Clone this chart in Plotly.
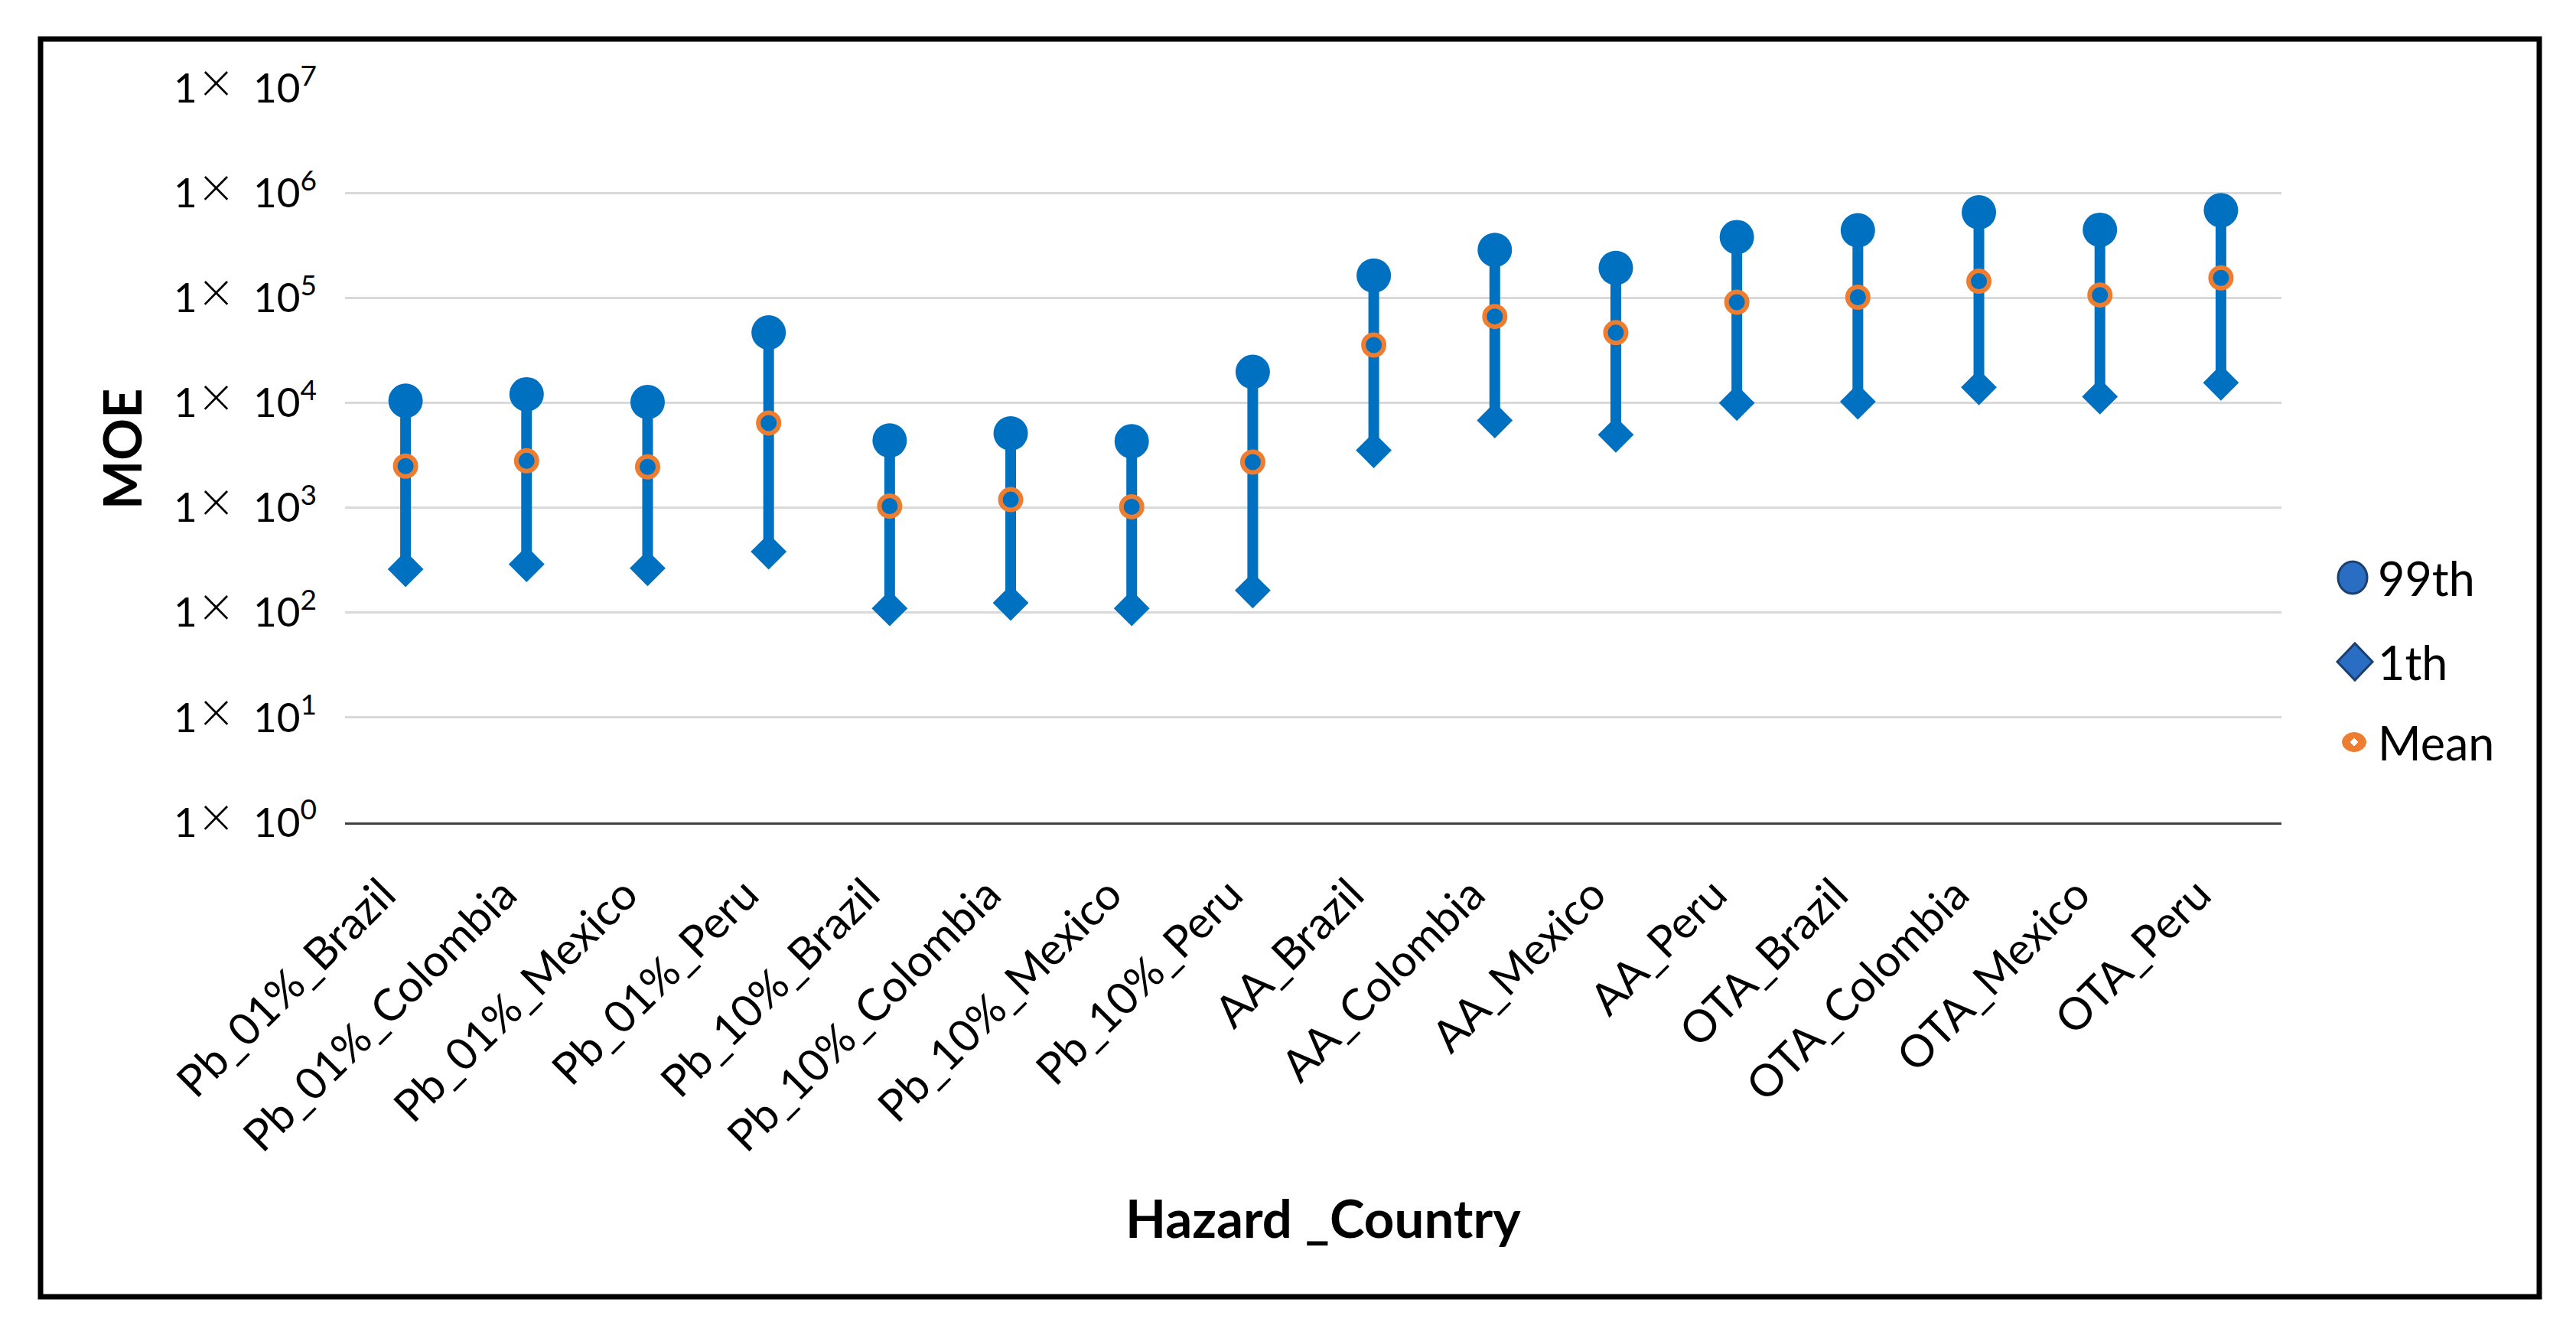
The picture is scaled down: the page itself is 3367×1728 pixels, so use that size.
import plotly.graph_objects as go

categories = ["Pb_01%_Brazil", "Pb_01%_Colombia", "Pb_01%_Mexico", "Pb_01%_Peru",
              "Pb_10%_Brazil", "Pb_10%_Colombia", "Pb_10%_Mexico", "Pb_10%_Peru",
              "AA_Brazil", "AA_Colombia", "AA_Mexico", "AA_Peru",
              "OTA_Brazil", "OTA_Colombia", "OTA_Mexico", "OTA_Peru"]
p99 = [10500, 12100, 10200, 47000, 4390, 5130, 4310, 19800,
       164000, 288000, 194000, 382000, 443000, 658000, 448000, 688000]
p1 = [260, 290, 265, 382, 110, 124, 110, 163,
      3540, 6820, 4970, 10000, 10300, 14100, 11500, 15600]
mean = [2500, 2810, 2460, 6440, 1040, 1197, 1023, 2730,
        35700, 66800, 46800, 91500, 102000, 145000, 107000, 156000]
tick_exps = [0, 1, 2, 3, 4, 5, 6, 7]
legend_names = ["99th", "1th", "Mean"]

BLUE = "#0070C0"
ORANGE = "#ED7D31"
LEG_BLUE = "#2A6EC4"
LEG_EDGE = "#1B3F6E"
FONT = "Lato"

W, H = 3367, 1728
L, R, T, B = 443, 2974, 107, 1067

def px(x):
    return (x - L) / (R - L)

def py(y):
    return (B - y) / (B - T)

# vertical segments from 1th to 99th
seg_x, seg_y = [], []
for c, lo, hi in zip(categories, p1, p99):
    seg_x += [c, c, None]
    seg_y += [lo, hi, None]

fig = go.Figure()
fig.add_trace(go.Scatter(x=seg_x, y=seg_y, mode="lines",
                         line=dict(color=BLUE, width=14),
                         showlegend=False, hoverinfo="skip"))
fig.add_trace(go.Scatter(x=categories, y=p1, mode="markers", name="1th",
                         marker=dict(symbol="diamond", size=36, color=BLUE),
                         showlegend=False))
fig.add_trace(go.Scatter(x=categories, y=p99, mode="markers", name="99th",
                         marker=dict(symbol="circle", size=45, color=BLUE),
                         showlegend=False))
fig.add_trace(go.Scatter(x=categories, y=mean, mode="markers", name="Mean",
                         marker=dict(symbol="circle", size=27, color=BLUE,
                                     line=dict(color=ORANGE, width=6)),
                         showlegend=False))

ytext = ["1\u200a<span style='font-size:74px;font-weight:300'>\u00d7</span>\u00a0\u00a010<sup>%d</sup>" % e
         for e in tick_exps]

fig.update_layout(
    width=W, height=H,
    margin=dict(l=L, r=W - R, t=T, b=H - B, autoexpand=False),
    paper_bgcolor="white", plot_bgcolor="white",
    font=dict(family=FONT, color="black"),
    showlegend=False,
    xaxis=dict(type="category", categoryorder="array", categoryarray=categories,
               range=[-0.5, len(categories) - 0.5],
               tickangle=-45, tickfont=dict(size=58, family=FONT),
               showgrid=False, showline=True, linecolor="#404040", linewidth=3,
               ticks="", ticklen=0, ticklabelstandoff=34, ticklabelshift=-30,
               zeroline=False),
    yaxis=dict(type="log", range=[0, 7.004],
               tickvals=[10 ** e for e in tick_exps],
               ticktext=ytext,
               tickfont=dict(size=53, family=FONT),
               showgrid=True, gridcolor="#D9D9D9", gridwidth=3,
               showline=False, ticks="", ticklen=0, ticklabelstandoff=36,
               zeroline=False),
)

fig.add_annotation(text="<b>MOE</b>", xref="paper", yref="paper",
                   x=px(150), y=py(579), showarrow=False, textangle=-90,
                   font=dict(size=68, family=FONT), xanchor="center", yanchor="middle")
fig.add_annotation(text="<b>Hazard _Country</b>", xref="paper", yref="paper",
                   x=px(1721), y=py(1583), showarrow=False,
                   font=dict(size=69, family=FONT), xanchor="center", yanchor="middle")

# custom legend (symbols drawn as shapes, labels as text)
leg_sym_x = 3067
leg_text_x = 3098
leg_y = [747, 857, 962]

def ell(cx, cy, w, h, **kw):
    fig.add_shape(type="circle", xref="paper", yref="paper",
                  x0=px(cx - w / 2), x1=px(cx + w / 2),
                  y0=py(cy + h / 2), y1=py(cy - h / 2), layer="above", **kw)

def dia(cx, cy, w, h, **kw):
    path = "M %f %f L %f %f L %f %f L %f %f Z" % (
        px(cx - w / 2), py(cy), px(cx), py(cy - h / 2),
        px(cx + w / 2), py(cy), px(cx), py(cy + h / 2))
    fig.add_shape(type="path", xref="paper", yref="paper", path=path,
                  layer="above", **kw)

ell(leg_sym_x, leg_y[0], 38, 42, fillcolor=LEG_BLUE, line=dict(color=LEG_EDGE, width=3))
dia(leg_sym_x + 3, leg_y[1], 46, 48, fillcolor=LEG_BLUE, line=dict(color=LEG_EDGE, width=3))
ell(leg_sym_x + 2, leg_y[2], 31, 25, fillcolor=ORANGE, line=dict(color=ORANGE, width=1))
dia(leg_sym_x + 2, leg_y[2], 10, 10, fillcolor="white", line=dict(color="white", width=1))

for name, yy in zip(legend_names, leg_y):
    fig.add_annotation(text=name, xref="paper", yref="paper", x=px(leg_text_x), y=py(yy),
                       showarrow=False, xanchor="left", yanchor="middle",
                       font=dict(size=61, family=FONT))

fig.add_shape(type="rect", xref="paper", yref="paper",
              x0=px(45), x1=px(3311), y0=py(1687), y1=py(43),
              line=dict(color="black", width=7), fillcolor="rgba(0,0,0,0)", layer="above")

fig.write_html("out.html")
